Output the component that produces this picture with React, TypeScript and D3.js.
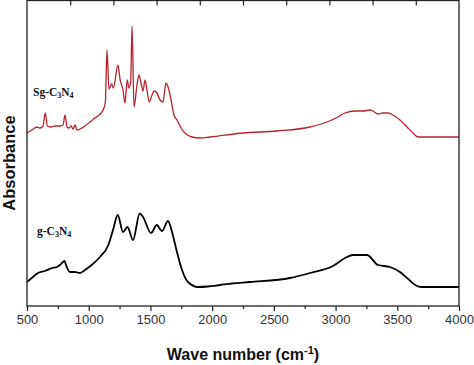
import React, { useRef, useEffect } from 'react';
import * as d3 from 'd3';

// FTIR spectra (wavenumber cm-1, absorbance a.u.)
const sgWave = [
  500, 540, 580, 605, 630, 648, 665, 690, 730, 770, 792, 808, 825, 840, 856, 873, 889, 905, 930, 970,
  1010, 1050, 1075, 1100, 1120, 1135, 1148, 1164, 1185, 1200, 1237, 1255, 1278, 1294, 1312, 1326, 1340,
  1351, 1367, 1391, 1407, 1424, 1440, 1456, 1472, 1490, 1513, 1530, 1553, 1578, 1602, 1626, 1650, 1667,
  1691, 1715, 1748, 1788, 1837, 1900, 1983, 2250, 2525, 2793, 2931, 3020, 3076, 3157, 3222, 3279, 3303,
  3344, 3384, 3425, 3465, 3522, 3579, 3627, 3668, 3741, 4000,
];
const sgAbs = [
  1.73, 1.76, 1.79, 1.78, 1.8, 1.93, 1.8, 1.79, 1.8, 1.8, 1.81, 1.91, 1.79, 1.78, 1.8, 1.77, 1.81, 1.76, 1.77, 1.8,
  1.84, 1.88, 1.9, 1.93, 1.97, 2.04, 2.56, 2.17, 2.22, 2.18, 2.41, 2.26, 2.16, 2.03, 2.26, 2.18, 2.24,
  2.8, 1.99, 2.21, 2.31, 2.23, 2.15, 2.26, 2.16, 2.04, 2.11, 2.15, 2.13, 2.06, 2.04, 2.23, 2.16, 2.06,
  1.91, 1.86, 1.78, 1.72, 1.69, 1.68, 1.69, 1.73, 1.75, 1.79, 1.84, 1.89, 1.93, 1.95, 1.95, 1.96, 1.95,
  1.92, 1.93, 1.93, 1.91, 1.86, 1.79, 1.73, 1.69, 1.69, 1.69,
];

const gWave = [
  500, 538, 589, 646, 703, 743, 767, 792, 802, 822, 848, 889, 929, 970, 1024, 1091, 1159, 1197, 1235,
  1278, 1314, 1359, 1413, 1440, 1505, 1551, 1594, 1642, 1675, 1715, 1756, 1804, 1886, 1966, 2064, 2160,
  2307, 2631, 2793, 2979, 3084, 3141, 3254, 3344, 3441, 3522, 3579, 3652, 3692, 4000,
];
const gAbs = [
  0.24, 0.28, 0.33, 0.35, 0.38, 0.39, 0.41, 0.44, 0.45, 0.39, 0.34, 0.34, 0.33, 0.36, 0.41, 0.49, 0.61, 0.76, 0.91,
  0.74, 0.79, 0.66, 0.925, 0.89, 0.73, 0.81, 0.75, 0.85, 0.74, 0.54, 0.36, 0.24, 0.19, 0.195, 0.21, 0.225,
  0.24, 0.28, 0.33, 0.4, 0.485, 0.51, 0.51, 0.41, 0.39, 0.34, 0.28, 0.205, 0.19, 0.19,
];

const xTicks = [500, 1000, 1500, 2000, 2500, 3000, 3500, 4000];
const xMinor = [750, 1250, 1750, 2250, 2750, 3250, 3750];
const topTicks = [850, 1200, 1550, 1900, 2250, 2600, 2950, 3300, 3650];

const W = 474;
const H = 365;
const margin = { top: 0.5, right: 15, bottom: 59, left: 27 };

export default function App() {
  const bottomRef = useRef<SVGGElement>(null);
  const minorRef = useRef<SVGGElement>(null);
  const topRef = useRef<SVGGElement>(null);

  const x = d3.scaleLinear().domain([500, 4000]).range([margin.left, W - margin.right]);
  const y = d3.scaleLinear().domain([0, 3.06]).range([H - margin.bottom, 0]);

  const line = d3
    .line<[number, number]>()
    .x(d => x(d[0]))
    .y(d => y(d[1]))
    .curve(d3.curveMonotoneX);

  const sg = sgWave.map((w, i) => [w, sgAbs[i]] as [number, number]);
  const g = gWave.map((w, i) => [w, gAbs[i]] as [number, number]);

  useEffect(() => {
    const b = d3.select(bottomRef.current!);
    b.call(d3.axisBottom(x).tickValues(xTicks).tickSize(5).tickPadding(4).tickFormat(d3.format('d')));
    b.select('.domain').remove();
    b.selectAll('line').attr('stroke', '#222').attr('stroke-width', 1.2);
    b.selectAll('text')
      .attr('fill', '#333')
      .attr('font-size', 13)
      .attr('font-family', '"Liberation Sans", Arial, sans-serif');

    const m = d3.select(minorRef.current!);
    m.call(d3.axisBottom(x).tickValues(xMinor).tickSize(3).tickFormat(() => ''));
    m.select('.domain').remove();
    m.selectAll('line').attr('stroke', '#222').attr('stroke-width', 1.2);

    const t = d3.select(topRef.current!);
    t.call(d3.axisTop(x).tickValues(topTicks).tickSize(-5).tickFormat(() => ''));
    t.select('.domain').remove();
    t.selectAll('line').attr('stroke', '#222').attr('stroke-width', 1.2);
  }, []);

  const plotBottom = H - margin.bottom;

  return (
    <svg width={W} height={H} style={{ position: 'absolute', left: 0, top: 0, background: '#fff' }}>
      <path d={line(sg) ?? ''} fill="none" stroke="#b8232f" strokeWidth={1.3} />
      <path d={line(g) ?? ''} fill="none" stroke="#000" strokeWidth={1.8} />

      <rect
        x={margin.left}
        y={margin.top}
        width={W - margin.left - margin.right}
        height={plotBottom - margin.top}
        fill="none"
        stroke="#222"
        strokeWidth={1.3}
      />
      <g ref={bottomRef} transform={`translate(0,${plotBottom})`} />
      <g ref={minorRef} transform={`translate(0,${plotBottom})`} />
      <g ref={topRef} transform={`translate(0,${margin.top})`} />

      <text
        x={243}
        y={360}
        textAnchor="middle"
        fontSize={16}
        fontWeight="bold"
        fontFamily='"Liberation Sans", Arial, sans-serif'
        fill="#111"
      >
        Wave number (cm<tspan dy={-6} fontSize={11}>-1</tspan>
        <tspan dy={6}>)</tspan>
      </text>
      <text
        transform="translate(15,163) rotate(-90)"
        textAnchor="middle"
        fontSize={16.5}
        fontWeight="bold"
        fontFamily='"Liberation Sans", Arial, sans-serif'
        fill="#111"
      >
        Absorbance
      </text>

      <text x={33} y={96} fontSize={11.5} fontWeight="bold" fontFamily='"Liberation Serif", "Times New Roman", serif' fill="#111">
        Sg-C<tspan dy={2} fontSize={8}>3</tspan>
        <tspan dy={-2}>N</tspan>
        <tspan dy={2} fontSize={8}>4</tspan>
      </text>
      <text x={37} y={235} fontSize={11.5} fontWeight="bold" fontFamily='"Liberation Serif", "Times New Roman", serif' fill="#111">
        g-C<tspan dy={2} fontSize={8}>3</tspan>
        <tspan dy={-2}>N</tspan>
        <tspan dy={2} fontSize={8}>4</tspan>
      </text>
    </svg>
  );
}
